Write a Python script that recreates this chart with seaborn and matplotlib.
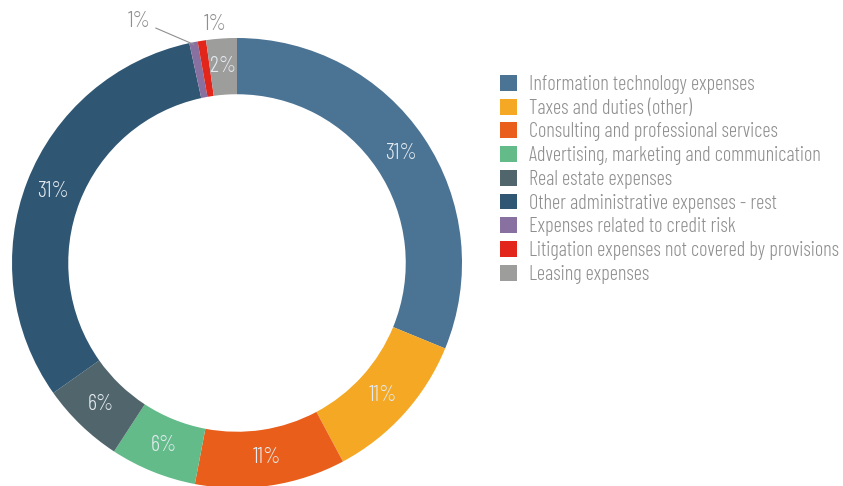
import numpy as np
import matplotlib
matplotlib.use("Agg")
import matplotlib.pyplot as plt
import seaborn as sns
from matplotlib.patches import Patch

categories = [
    "Information technology expenses",
    "Taxes and duties (other)",
    "Consulting and professional services",
    "Advertising, marketing and communication",
    "Real estate expenses",
    "Other administrative expenses - rest",
    "Expenses related to credit risk",
    "Litigation expenses not covered by provisions",
    "Leasing expenses",
]
shares = [31.2, 11.0, 10.8, 6.2, 6.0, 31.4, 0.6, 0.6, 2.2]
colors = ["#4a7394", "#f5a823", "#e95e1b", "#62bb89", "#51656c",
          "#2f5672", "#8870a0", "#e3261b", "#9d9d9c"]

sns.set_theme(style="white")
plt.rcParams["font.family"] = ["Barlow Condensed", "DejaVu Sans"]
plt.rcParams["font.weight"] = 300
text_grey = "#8f8f8f"
inner_text = "#e3eaf0"

W, H = 843, 486
fig = plt.figure(figsize=(W / 100, H / 100), dpi=100)
ax = fig.add_axes([12 / W, 1 - 488 / H, 450 / W, 450 / H])

wedges, _, pct_texts = ax.pie(
    shares, colors=colors, startangle=90, counterclock=False,
    radius=1.0, wedgeprops=dict(width=0.25, linewidth=0),
    autopct=lambda p: f"{p:.0f}%", pctdistance=0.875,
    textprops=dict(color=inner_text, fontsize=16, fontweight=300),
)
ax.set_xlim(-1, 1)
ax.set_ylim(-1, 1)
ax.set_aspect("equal")
ax.axis("off")

# the two thinnest slices get their labels outside the ring
for i in (6, 7):
    pct_texts[i].set_visible(False)

def outer_point(w, r=0.99):
    t = np.deg2rad((w.theta1 + w.theta2) / 2)
    return np.cos(t) * r, np.sin(t) * r

x6, y6 = outer_point(wedges[6])
ax.annotate(f"{shares[6]:.0f}%", xy=(x6, y6), xytext=(x6 - 0.19, 1.075),
            ha="right", va="center", color=text_grey, fontsize=16,
            fontweight=300,
            arrowprops=dict(arrowstyle="-", color=text_grey, lw=0.8,
                            shrinkA=1, shrinkB=0),
            annotation_clip=False)
x7, y7 = outer_point(wedges[7])
ax.text(x7 + 0.06, 1.06, f"{shares[7]:.0f}%", ha="center", va="center",
        color=text_grey, fontsize=16, fontweight=300, clip_on=False)

handles = [Patch(facecolor=c, edgecolor="none") for c in colors]
leg = fig.legend(handles, categories, loc="upper left",
                 bbox_to_anchor=(500 / W, 1 - 75 / H), frameon=False,
                 prop=dict(family=["Barlow Condensed", "DejaVu Sans"],
                           weight=300, size=14.7),
                 labelcolor=text_grey, handlelength=0.82,
                 handleheight=0.82, handletextpad=0.62, labelspacing=0.23,
                 borderpad=0, borderaxespad=0)

fig.savefig("out.png", dpi=100)
